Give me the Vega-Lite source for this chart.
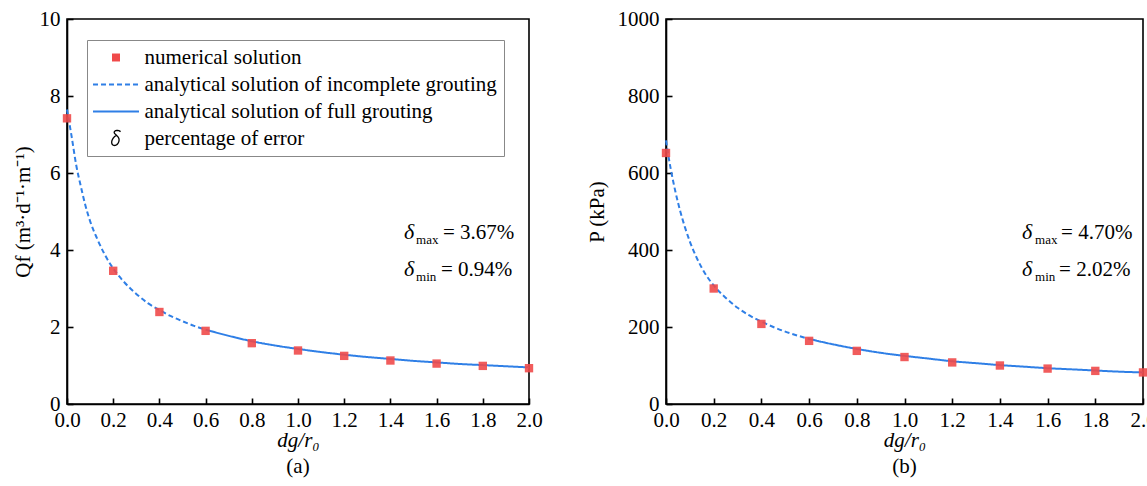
{
  "$schema": "https://vega.github.io/schema/vega-lite/v6.json",
  "autosize": {"type": "pad"},
  "padding": {"left": 11, "top": 7, "right": 0, "bottom": 0},
  "background": "white",
  "spacing": 137,
  "bounds": "flush",
  "config": {
    "font": "Liberation Serif",
    "view": {"stroke": "#000", "strokeWidth": 1.6},
    "axis": {"domainColor": "#000", "domainWidth": 1.6, "tickColor": "#000", "tickWidth": 1.6, "tickSize": -6, "grid": false, "labelFont": "Liberation Serif", "labelFontSize": 21, "labelColor": "#000", "titleFont": "Liberation Serif", "titleFontSize": 21, "titleFontWeight": "normal", "titleColor": "#000", "labelOverlap": false, "labelFlush": false},
    "legend": {"orient": "none", "title": null, "rowPadding": 5, "labelFontSize": 21, "labelFont": "Liberation Serif", "labelColor": "#000", "padding": 7, "symbolOffset": 11.5, "labelOffset": 18, "strokeColor": "#888", "fillColor": "white", "labelLimit": 600, "symbolStrokeWidth": 2},
    "title": {"font": "Liberation Serif", "fontSize": 21, "fontWeight": "normal", "color": "#000"},
    "text": {"font": "Liberation Serif"}
  },
  "datasets": {
    "numA": [
      {"x": 0.0, "y": 7.42, "series": "numerical solution"},
      {"x": 0.2, "y": 3.46, "series": "numerical solution"},
      {"x": 0.4, "y": 2.39, "series": "numerical solution"},
      {"x": 0.6, "y": 1.90, "series": "numerical solution"},
      {"x": 0.8, "y": 1.58, "series": "numerical solution"},
      {"x": 1.0, "y": 1.39, "series": "numerical solution"},
      {"x": 1.2, "y": 1.25, "series": "numerical solution"},
      {"x": 1.4, "y": 1.13, "series": "numerical solution"},
      {"x": 1.6, "y": 1.05, "series": "numerical solution"},
      {"x": 1.8, "y": 0.99, "series": "numerical solution"},
      {"x": 2.0, "y": 0.93, "series": "numerical solution"}
    ],
    "curveA": [
      {"x": 0.0, "y": 7.65, "series": "analytical solution of incomplete grouting"},
      {"x": 0.01, "y": 7.3, "series": "analytical solution of incomplete grouting"},
      {"x": 0.02, "y": 6.95, "series": "analytical solution of incomplete grouting"},
      {"x": 0.04, "y": 6.2, "series": "analytical solution of incomplete grouting"},
      {"x": 0.06, "y": 5.65, "series": "analytical solution of incomplete grouting"},
      {"x": 0.08, "y": 5.15, "series": "analytical solution of incomplete grouting"},
      {"x": 0.1, "y": 4.75, "series": "analytical solution of incomplete grouting"},
      {"x": 0.13, "y": 4.3, "series": "analytical solution of incomplete grouting"},
      {"x": 0.16, "y": 3.92, "series": "analytical solution of incomplete grouting"},
      {"x": 0.2, "y": 3.52, "series": "analytical solution of incomplete grouting"},
      {"x": 0.25, "y": 3.15, "series": "analytical solution of incomplete grouting"},
      {"x": 0.3, "y": 2.86, "series": "analytical solution of incomplete grouting"},
      {"x": 0.35, "y": 2.62, "series": "analytical solution of incomplete grouting"},
      {"x": 0.4, "y": 2.44, "series": "analytical solution of incomplete grouting"},
      {"x": 0.45, "y": 2.28, "series": "analytical solution of incomplete grouting"},
      {"x": 0.5, "y": 2.15, "series": "analytical solution of incomplete grouting"},
      {"x": 0.55, "y": 2.03, "series": "analytical solution of incomplete grouting"},
      {"x": 0.6, "y": 1.93, "series": "analytical solution of incomplete grouting"},
      {"x": 0.6, "y": 1.93, "series": "analytical solution of full grouting"},
      {"x": 0.7, "y": 1.77, "series": "analytical solution of full grouting"},
      {"x": 0.8, "y": 1.63, "series": "analytical solution of full grouting"},
      {"x": 0.9, "y": 1.52, "series": "analytical solution of full grouting"},
      {"x": 1.0, "y": 1.43, "series": "analytical solution of full grouting"},
      {"x": 1.1, "y": 1.35, "series": "analytical solution of full grouting"},
      {"x": 1.2, "y": 1.28, "series": "analytical solution of full grouting"},
      {"x": 1.3, "y": 1.22, "series": "analytical solution of full grouting"},
      {"x": 1.4, "y": 1.17, "series": "analytical solution of full grouting"},
      {"x": 1.5, "y": 1.12, "series": "analytical solution of full grouting"},
      {"x": 1.6, "y": 1.08, "series": "analytical solution of full grouting"},
      {"x": 1.7, "y": 1.04, "series": "analytical solution of full grouting"},
      {"x": 1.8, "y": 1.01, "series": "analytical solution of full grouting"},
      {"x": 1.9, "y": 0.98, "series": "analytical solution of full grouting"},
      {"x": 2.0, "y": 0.95, "series": "analytical solution of full grouting"}
    ],
    "numB": [
      {"x": 0.0, "y": 652, "series": "numerical solution"},
      {"x": 0.2, "y": 300, "series": "numerical solution"},
      {"x": 0.4, "y": 208, "series": "numerical solution"},
      {"x": 0.6, "y": 164, "series": "numerical solution"},
      {"x": 0.8, "y": 138, "series": "numerical solution"},
      {"x": 1.0, "y": 122, "series": "numerical solution"},
      {"x": 1.2, "y": 108, "series": "numerical solution"},
      {"x": 1.4, "y": 100, "series": "numerical solution"},
      {"x": 1.6, "y": 92, "series": "numerical solution"},
      {"x": 1.8, "y": 86, "series": "numerical solution"},
      {"x": 2.0, "y": 82, "series": "numerical solution"}
    ],
    "curveB": [
      {"x": 0.0, "y": 685, "series": "analytical solution of incomplete grouting"},
      {"x": 0.01, "y": 645, "series": "analytical solution of incomplete grouting"},
      {"x": 0.02, "y": 610, "series": "analytical solution of incomplete grouting"},
      {"x": 0.04, "y": 550, "series": "analytical solution of incomplete grouting"},
      {"x": 0.06, "y": 500, "series": "analytical solution of incomplete grouting"},
      {"x": 0.08, "y": 458, "series": "analytical solution of incomplete grouting"},
      {"x": 0.1, "y": 422, "series": "analytical solution of incomplete grouting"},
      {"x": 0.13, "y": 378, "series": "analytical solution of incomplete grouting"},
      {"x": 0.16, "y": 343, "series": "analytical solution of incomplete grouting"},
      {"x": 0.2, "y": 308, "series": "analytical solution of incomplete grouting"},
      {"x": 0.25, "y": 276, "series": "analytical solution of incomplete grouting"},
      {"x": 0.3, "y": 250, "series": "analytical solution of incomplete grouting"},
      {"x": 0.35, "y": 230, "series": "analytical solution of incomplete grouting"},
      {"x": 0.4, "y": 214, "series": "analytical solution of incomplete grouting"},
      {"x": 0.45, "y": 200, "series": "analytical solution of incomplete grouting"},
      {"x": 0.5, "y": 188, "series": "analytical solution of incomplete grouting"},
      {"x": 0.55, "y": 178, "series": "analytical solution of incomplete grouting"},
      {"x": 0.6, "y": 169, "series": "analytical solution of incomplete grouting"},
      {"x": 0.6, "y": 169, "series": "analytical solution of full grouting"},
      {"x": 0.7, "y": 155, "series": "analytical solution of full grouting"},
      {"x": 0.8, "y": 143, "series": "analytical solution of full grouting"},
      {"x": 0.9, "y": 133, "series": "analytical solution of full grouting"},
      {"x": 1.0, "y": 125, "series": "analytical solution of full grouting"},
      {"x": 1.1, "y": 118, "series": "analytical solution of full grouting"},
      {"x": 1.2, "y": 111, "series": "analytical solution of full grouting"},
      {"x": 1.3, "y": 106, "series": "analytical solution of full grouting"},
      {"x": 1.4, "y": 101, "series": "analytical solution of full grouting"},
      {"x": 1.5, "y": 97, "series": "analytical solution of full grouting"},
      {"x": 1.6, "y": 93, "series": "analytical solution of full grouting"},
      {"x": 1.7, "y": 90, "series": "analytical solution of full grouting"},
      {"x": 1.8, "y": 87, "series": "analytical solution of full grouting"},
      {"x": 1.9, "y": 84, "series": "analytical solution of full grouting"},
      {"x": 2.0, "y": 82, "series": "analytical solution of full grouting"}
    ]
  },
  "hconcat": [
    {
      "width": 462,
      "height": 385,
      "title": {"text": "(a)", "orient": "bottom", "offset": 6},
      "layer": [
        {
          "data": {"name": "curveA"},
          "mark": {"type": "line", "strokeWidth": 2, "interpolate": "monotone"},
          "encoding": {
            "x": {"field": "x", "type": "quantitative", "scale": {"domain": [0, 2], "nice": false},
              "axis": {"title": "dg/r₀", "titleFontStyle": "italic", "titlePadding": -1, "values": [0, 0.1, 0.2, 0.3, 0.4, 0.5, 0.6, 0.7, 0.8, 0.9, 1.0, 1.1, 1.2, 1.3, 1.4, 1.5, 1.6, 1.7, 1.8, 1.9, 2.0], "format": ".1f", "tickSize": -6, "labelPadding": 11, "labelOverlap": false, "labelExpr": "round(datum.value*10) % 2 === 0 ? datum.label : ''",
                "encode": {"ticks": {"update": {"y2": {"signal": "round(datum.value*10) % 2 === 0 ? -6 : -3"}}}}}},
            "y": {"field": "y", "type": "quantitative", "scale": {"domain": [0, 10], "nice": false},
              "axis": {"title": "Qf (m³·d⁻¹·m⁻¹)", "titlePadding": 6, "values": [0, 0.5, 1, 1.5, 2, 2.5, 3, 3.5, 4, 4.5, 5, 5.5, 6, 6.5, 7, 7.5, 8, 8.5, 9, 9.5, 10], "format": "d", "tickSize": -6, "labelPadding": 13, "labelOverlap": false, "labelExpr": "round(datum.value*2) % 2 === 0 ? format(datum.value, 'd') : ''",
                "encode": {"ticks": {"update": {"x2": {"signal": "round(datum.value*2) % 2 === 0 ? 6 : 3"}}}}}},
            "color": {"field": "series", "type": "nominal",
              "scale": {"domain": ["numerical solution", "analytical solution of incomplete grouting", "analytical solution of full grouting", "percentage of error"], "range": ["#f04a4a", "#2f7fe6", "#2f7fe6", "#000000"]},
              "legend": {"legendX": 20, "legendY": 21, "symbolSize": 361,
                "encode": {"symbols": {"update": {
                  "shape": {"signal": "datum.value === 'numerical solution' ? 'M-0.42,-0.42H0.42V0.42H-0.42Z' : datum.value === 'percentage of error' ? 'M0.474,-0.716 C0.316,-0.895 -0.158,-0.895 -0.189,-0.653 C-0.211,-0.474 0.263,-0.263 0.316,0.053 C0.368,0.421 0.105,0.737 -0.158,0.737 C-0.421,0.737 -0.505,0.474 -0.421,0.211 C-0.337,-0.053 -0.105,-0.263 0.084,-0.337' : 'M-2.42,0L2.42,0'"},
                  "fill": {"signal": "datum.value === 'numerical solution' ? '#f04a4a' : 'transparent'"},
                  "fillOpacity": {"signal": "datum.value === 'numerical solution' ? 1 : 0"},
                  "stroke": {"signal": "datum.value === 'numerical solution' ? 'transparent' : datum.value === 'percentage of error' ? '#000000' : '#2f7fe6'"},
                  "strokeOpacity": {"signal": "datum.value === 'numerical solution' ? 0 : 1"},
                  "strokeDash": {"signal": "datum.value === 'analytical solution of incomplete grouting' ? [5, 3] : [1, 0]"},
                  "strokeWidth": {"signal": "datum.value === 'percentage of error' ? 1.3 : 2"},
                  "opacity": {"value": 1},
                  "size": {"value": 361}
                }}}}},
            "strokeDash": {"field": "series", "type": "nominal", "scale": {"domain": ["analytical solution of incomplete grouting", "analytical solution of full grouting"], "range": [[5, 3], [1, 0]]}, "legend": null}
          }
        },
        {
          "data": {"name": "numA"},
          "mark": {"type": "point", "shape": "square", "filled": true, "size": 70, "opacity": 0.9},
          "encoding": {
            "x": {"field": "x", "type": "quantitative", "scale": {"domain": [0, 2], "nice": false}},
            "y": {"field": "y", "type": "quantitative", "scale": {"domain": [0, 10], "nice": false}},
            "color": {"field": "series", "type": "nominal"}
          }
        },
        {
          "data": {"values": [{}]},
          "mark": {"type": "text", "align": "left", "baseline": "alphabetic", "fontSize": 22, "fontStyle": "italic", "text": "δ"},
          "encoding": {"x": {"datum": 1.459, "type": "quantitative"}, "y": {"datum": 4.29, "type": "quantitative"}}
        },
        {
          "data": {"values": [{}]},
          "mark": {"type": "text", "align": "left", "baseline": "alphabetic", "fontSize": 13, "dx": 12, "dy": 5, "text": "max"},
          "encoding": {"x": {"datum": 1.459, "type": "quantitative"}, "y": {"datum": 4.29, "type": "quantitative"}}
        },
        {
          "data": {"values": [{}]},
          "mark": {"type": "text", "align": "left", "baseline": "alphabetic", "fontSize": 21, "dx": 39, "text": "= 3.67%"},
          "encoding": {"x": {"datum": 1.459, "type": "quantitative"}, "y": {"datum": 4.29, "type": "quantitative"}}
        },
        {
          "data": {"values": [{}]},
          "mark": {"type": "text", "align": "left", "baseline": "alphabetic", "fontSize": 22, "fontStyle": "italic", "text": "δ"},
          "encoding": {"x": {"datum": 1.459, "type": "quantitative"}, "y": {"datum": 3.33, "type": "quantitative"}}
        },
        {
          "data": {"values": [{}]},
          "mark": {"type": "text", "align": "left", "baseline": "alphabetic", "fontSize": 13, "dx": 12, "dy": 5, "text": "min"},
          "encoding": {"x": {"datum": 1.459, "type": "quantitative"}, "y": {"datum": 3.33, "type": "quantitative"}}
        },
        {
          "data": {"values": [{}]},
          "mark": {"type": "text", "align": "left", "baseline": "alphabetic", "fontSize": 21, "dx": 37, "text": "= 0.94%"},
          "encoding": {"x": {"datum": 1.459, "type": "quantitative"}, "y": {"datum": 3.33, "type": "quantitative"}}
        }
      ]
    },
    {
      "width": 477,
      "height": 385,
      "title": {"text": "(b)", "orient": "bottom", "offset": 6},
      "layer": [
        {
          "data": {"name": "curveB"},
          "mark": {"type": "line", "strokeWidth": 2, "interpolate": "monotone"},
          "encoding": {
            "x": {"field": "x", "type": "quantitative", "scale": {"domain": [0, 2], "nice": false},
              "axis": {"title": "dg/r₀", "titleFontStyle": "italic", "titlePadding": -1, "values": [0, 0.1, 0.2, 0.3, 0.4, 0.5, 0.6, 0.7, 0.8, 0.9, 1.0, 1.1, 1.2, 1.3, 1.4, 1.5, 1.6, 1.7, 1.8, 1.9, 2.0], "format": ".1f", "tickSize": -6, "labelPadding": 11, "labelOverlap": false, "labelExpr": "round(datum.value*10) % 2 === 0 ? datum.label : ''",
                "encode": {"ticks": {"update": {"y2": {"signal": "round(datum.value*10) % 2 === 0 ? -6 : -3"}}}}}},
            "y": {"field": "y", "type": "quantitative", "scale": {"domain": [0, 1000], "nice": false},
              "axis": {"title": "P (kPa)", "titlePadding": 10, "values": [0, 50, 100, 150, 200, 250, 300, 350, 400, 450, 500, 550, 600, 650, 700, 750, 800, 850, 900, 950, 1000], "format": "d", "tickSize": -6, "labelPadding": 13, "labelOverlap": false, "labelExpr": "round(datum.value/50) % 2 === 0 ? format(datum.value, 'd') : ''",
                "encode": {"ticks": {"update": {"x2": {"signal": "round(datum.value/50) % 2 === 0 ? 6 : 3"}}}}}},
            "color": {"field": "series", "type": "nominal",
              "scale": {"domain": ["numerical solution", "analytical solution of incomplete grouting", "analytical solution of full grouting", "percentage of error"], "range": ["#f04a4a", "#2f7fe6", "#2f7fe6", "#000000"]},
              "legend": {"legendX": 24, "legendY": 20, "symbolSize": 361,
                "encode": {"symbols": {"update": {
                  "shape": {"signal": "datum.value === 'numerical solution' ? 'M-0.42,-0.42H0.42V0.42H-0.42Z' : datum.value === 'percentage of error' ? 'M0.474,-0.716 C0.316,-0.895 -0.158,-0.895 -0.189,-0.653 C-0.211,-0.474 0.263,-0.263 0.316,0.053 C0.368,0.421 0.105,0.737 -0.158,0.737 C-0.421,0.737 -0.505,0.474 -0.421,0.211 C-0.337,-0.053 -0.105,-0.263 0.084,-0.337' : 'M-2.42,0L2.42,0'"},
                  "fill": {"signal": "datum.value === 'numerical solution' ? '#f04a4a' : 'transparent'"},
                  "fillOpacity": {"signal": "datum.value === 'numerical solution' ? 1 : 0"},
                  "stroke": {"signal": "datum.value === 'numerical solution' ? 'transparent' : datum.value === 'percentage of error' ? '#000000' : '#2f7fe6'"},
                  "strokeOpacity": {"signal": "datum.value === 'numerical solution' ? 0 : 1"},
                  "strokeDash": {"signal": "datum.value === 'analytical solution of incomplete grouting' ? [5, 3] : [1, 0]"},
                  "strokeWidth": {"signal": "datum.value === 'percentage of error' ? 1.3 : 2"},
                  "opacity": {"value": 1},
                  "size": {"value": 361}
                }}}}},
            "strokeDash": {"field": "series", "type": "nominal", "scale": {"domain": ["analytical solution of incomplete grouting", "analytical solution of full grouting"], "range": [[5, 3], [1, 0]]}, "legend": null}
          }
        },
        {
          "data": {"name": "numB"},
          "mark": {"type": "point", "shape": "square", "filled": true, "size": 70, "opacity": 0.9},
          "encoding": {
            "x": {"field": "x", "type": "quantitative", "scale": {"domain": [0, 2], "nice": false}},
            "y": {"field": "y", "type": "quantitative", "scale": {"domain": [0, 1000], "nice": false}},
            "color": {"field": "series", "type": "nominal"}
          }
        },
        {
          "data": {"values": [{}]},
          "mark": {"type": "text", "align": "left", "baseline": "alphabetic", "fontSize": 22, "fontStyle": "italic", "text": "δ"},
          "encoding": {"x": {"datum": 1.493, "type": "quantitative"}, "y": {"datum": 428.6, "type": "quantitative"}}
        },
        {
          "data": {"values": [{}]},
          "mark": {"type": "text", "align": "left", "baseline": "alphabetic", "fontSize": 13, "dx": 13, "dy": 5, "text": "max"},
          "encoding": {"x": {"datum": 1.493, "type": "quantitative"}, "y": {"datum": 428.6, "type": "quantitative"}}
        },
        {
          "data": {"values": [{}]},
          "mark": {"type": "text", "align": "left", "baseline": "alphabetic", "fontSize": 21, "dx": 39, "text": "= 4.70%"},
          "encoding": {"x": {"datum": 1.493, "type": "quantitative"}, "y": {"datum": 428.6, "type": "quantitative"}}
        },
        {
          "data": {"values": [{}]},
          "mark": {"type": "text", "align": "left", "baseline": "alphabetic", "fontSize": 22, "fontStyle": "italic", "text": "δ"},
          "encoding": {"x": {"datum": 1.493, "type": "quantitative"}, "y": {"datum": 332.5, "type": "quantitative"}}
        },
        {
          "data": {"values": [{}]},
          "mark": {"type": "text", "align": "left", "baseline": "alphabetic", "fontSize": 13, "dx": 13, "dy": 5, "text": "min"},
          "encoding": {"x": {"datum": 1.493, "type": "quantitative"}, "y": {"datum": 332.5, "type": "quantitative"}}
        },
        {
          "data": {"values": [{}]},
          "mark": {"type": "text", "align": "left", "baseline": "alphabetic", "fontSize": 21, "dx": 37, "text": "= 2.02%"},
          "encoding": {"x": {"datum": 1.493, "type": "quantitative"}, "y": {"datum": 332.5, "type": "quantitative"}}
        }
      ]
    }
  ]
}
